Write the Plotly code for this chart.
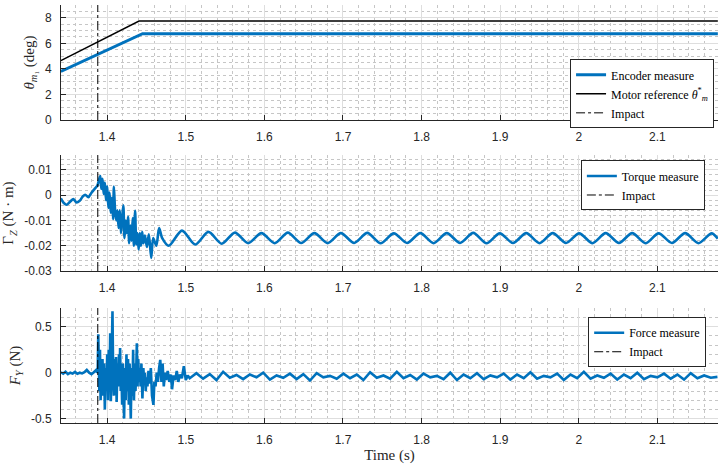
import plotly.graph_objects as go

# ---------------- data ----------------
impact_t = 1.388

t_ref = [1.341, 1.4405, 2.177]
ref_deg = [4.65, 7.75, 7.75]
t_enc = [1.341, 1.4450, 2.177]
enc_deg = [3.80, 6.75, 6.75]

t_torque = [
    1.3410, 1.3445, 1.3485, 1.3530, 1.3570, 1.3610, 1.3650, 1.3690, 1.3720, 1.3760,
    1.3800, 1.3840, 1.3875, 1.3895, 1.3912, 1.3925, 1.3940, 1.3955, 1.3970, 1.3985,
    1.4000, 1.4015, 1.4030, 1.4045, 1.4060, 1.4075, 1.4085, 1.4100, 1.4115, 1.4130,
    1.4145, 1.4160, 1.4175, 1.4190, 1.4205, 1.4220, 1.4235, 1.4250, 1.4265, 1.4280,
    1.4295, 1.4310, 1.4325, 1.4340, 1.4355, 1.4370, 1.4385, 1.4400, 1.4415, 1.4430,
    1.4445, 1.4460, 1.4480, 1.4505, 1.4530, 1.4560, 1.4585, 1.4625, 1.4660, 1.4700,
    1.4783, 1.4951, 1.5120, 1.5288, 1.5457, 1.5625, 1.5794, 1.5962, 1.6131, 1.6299,
    1.6468, 1.6636, 1.6805, 1.6973, 1.7142, 1.7310, 1.7479, 1.7647, 1.7816, 1.7984,
    1.8153, 1.8321, 1.8490, 1.8658, 1.8827, 1.8995, 1.9164, 1.9332, 1.9501, 1.9669,
    1.9838, 2.0006, 2.0175, 2.0343, 2.0512, 2.0680, 2.0849, 2.1017, 2.1186, 2.1354,
    2.1523, 2.1691, 2.1770,
]
torque_nm = [
    -0.0012, -0.0030, -0.0038, -0.0025, -0.0015, -0.0029, -0.0022, -0.0005, 0.0002, -0.0008,
    0.0010, 0.0025, 0.0038, 0.0060, 0.0076, 0.0025, 0.0065, 0.0005, 0.0050, -0.0020,
    0.0035, -0.0050, 0.0010, -0.0070, -0.0010, -0.0095, 0.0034, -0.0060, -0.0100, -0.0060,
    -0.0130, -0.0060, -0.0150, -0.0090, -0.0040, -0.0170, -0.0100, -0.0150, -0.0085, -0.0190,
    -0.0120, -0.0180, -0.0090, -0.0200, -0.0062, -0.0195, -0.0150, -0.0215, -0.0150, -0.0200,
    -0.0145, -0.0190, -0.0160, -0.0205, -0.0155, -0.0248, -0.0170, -0.0200, -0.0130, -0.0170,
    -0.0200, -0.0140, -0.0195, -0.0145, -0.0192, -0.0148, -0.0190, -0.0150, -0.0190, -0.0148,
    -0.0189, -0.0150, -0.0190, -0.0150, -0.0189, -0.0149, -0.0190, -0.0151, -0.0189, -0.0150,
    -0.0190, -0.0150, -0.0189, -0.0149, -0.0190, -0.0151, -0.0189, -0.0150, -0.0190, -0.0150,
    -0.0189, -0.0151, -0.0190, -0.0150, -0.0189, -0.0150, -0.0190, -0.0151, -0.0189, -0.0150,
    -0.0190, -0.0151, -0.0172,
]

t_force = [
    1.3410, 1.3440, 1.3470, 1.3500, 1.3530, 1.3560, 1.3590, 1.3620, 1.3650, 1.3680,
    1.3710, 1.3740, 1.3770, 1.3800, 1.3830, 1.3860, 1.3875,
    1.3880, 1.3886, 1.3893, 1.3900, 1.3908, 1.3916, 1.3924, 1.3932, 1.3940, 1.3950,
    1.3960, 1.3970, 1.3980, 1.3990, 1.4000, 1.4010, 1.4020, 1.4030, 1.4038, 1.4046,
    1.4056, 1.4067, 1.4076, 1.4085, 1.4094, 1.4103, 1.4112, 1.4120, 1.4130, 1.4140,
    1.4150, 1.4158, 1.4164, 1.4172, 1.4180, 1.4190, 1.4200, 1.4208, 1.4215, 1.4225,
    1.4235, 1.4245, 1.4255, 1.4265, 1.4275, 1.4285, 1.4292, 1.4300, 1.4310, 1.4320,
    1.4330, 1.4340, 1.4350, 1.4360, 1.4370, 1.4377, 1.4386, 1.4395, 1.4405, 1.4415,
    1.4425, 1.4435, 1.4448, 1.4460, 1.4470, 1.4480, 1.4490, 1.4500, 1.4512, 1.4525,
    1.4540, 1.4555, 1.4570, 1.4588, 1.4600, 1.4615, 1.4630, 1.4645, 1.4660, 1.4675,
    1.4690, 1.4705, 1.4720, 1.4735, 1.4750, 1.4770, 1.4790, 1.4810, 1.4825, 1.4845,
    1.4865, 1.4885, 1.4905, 1.4925, 1.4950, 1.4975, 1.5000, 1.5025, 1.5050,
    1.5135, 1.5220, 1.5305, 1.5390, 1.5475, 1.5560, 1.5645, 1.5730, 1.5815, 1.5900,
    1.5985, 1.6070, 1.6155, 1.6240, 1.6325, 1.6410, 1.6495, 1.6580, 1.6665, 1.6750,
    1.6835, 1.6920, 1.7005, 1.7090, 1.7175, 1.7260, 1.7345, 1.7430, 1.7515, 1.7600,
    1.7685, 1.7770, 1.7855, 1.7940, 1.8025, 1.8110, 1.8195, 1.8280, 1.8365, 1.8450,
    1.8535, 1.8620, 1.8705, 1.8790, 1.8875, 1.8960, 1.9045, 1.9130, 1.9215, 1.9300,
    1.9385, 1.9470, 1.9555, 1.9640, 1.9725, 1.9810, 1.9895, 1.9980, 2.0065, 2.0150,
    2.0235, 2.0320, 2.0405, 2.0490, 2.0575, 2.0660, 2.0745, 2.0830, 2.0915, 2.1000,
    2.1085, 2.1170, 2.1255, 2.1340, 2.1425, 2.1510, 2.1595, 2.1680, 2.1765,
]
force_n = [
    0.005, -0.010, 0.010, -0.015, 0.000, -0.010, 0.008, -0.012, 0.000, -0.008,
    0.005, 0.030, 0.000, -0.015, 0.005, 0.030, 0.000,
    0.05, 0.42, 0.10, -0.20, 0.25, -0.30, 0.05, -0.15, 0.15, -0.25,
    0.10, -0.40, 0.05, -0.20, 0.20, -0.30, 0.25, -0.10, 0.43, -0.31,
    0.10, 0.67, -0.05, -0.25, 0.15, -0.10, 0.17, -0.32, 0.10, -0.15,
    0.20, -0.05, 0.27, -0.20, 0.05, -0.35, 0.10, -0.15, -0.50, 0.05,
    -0.30, 0.20, -0.20, 0.15, -0.35, 0.10, -0.10, -0.50, 0.05, -0.25,
    0.25, -0.30, 0.10, -0.20, 0.05, 0.32, -0.15, 0.15, -0.10, 0.05,
    -0.15, 0.10, -0.28, 0.05, -0.10, 0.00, -0.20, -0.05, -0.15, 0.02,
    -0.12, 0.05, -0.25, -0.35, -0.10, -0.15, 0.00, -0.10, 0.05, 0.14,
    -0.10, 0.10, -0.15, 0.00, -0.08, 0.02, -0.10, -0.02, -0.18, -0.03,
    -0.08, 0.02, -0.10, -0.02, -0.06, 0.07, -0.08, -0.03, -0.06,
    -0.005, -0.065, -0.015, -0.080, 0.010, -0.055, -0.025, -0.070, -0.020, -0.050,
    0.000, -0.075, -0.030, -0.055, -0.010, -0.070, -0.015, -0.085, -0.005, -0.050,
    -0.035, -0.065, -0.010, -0.060, -0.020, -0.080, 0.005, -0.055, -0.030, -0.065,
    0.010, -0.060, -0.025, -0.075, -0.010, -0.050, -0.035, -0.070, 0.000, -0.080,
    -0.020, -0.060, -0.005, -0.070, -0.030, -0.050, -0.010, -0.075, -0.020, -0.060,
    0.005, -0.065, -0.035, -0.050, -0.010, -0.080, -0.020, -0.060, 0.010, -0.065,
    -0.030, -0.055, -0.010, -0.075, -0.020, -0.060, 0.000, -0.070, -0.035, -0.050,
    -0.010, -0.065, -0.020, -0.075, -0.005, -0.060, -0.030, -0.055, -0.045,
]
assert len(t_torque) == len(torque_nm)
assert len(t_force) == len(force_n)

x_ticks = [1.4, 1.5, 1.6, 1.7, 1.8, 1.9, 2.0, 2.1]
x_ticklabels = ["1.4", "1.5", "1.6", "1.7", "1.8", "1.9", "2", "2.1"]
theta_ticks = [0, 2, 4, 6, 8]
theta_ticklabels = ["0", "2", "4", "6", "8"]
torque_ticks = [-0.03, -0.02, -0.01, 0, 0.01]
torque_ticklabels = ["-0.03", "-0.02", "-0.01", "0", "0.01"]
force_ticks = [-0.5, 0, 0.5]
force_ticklabels = ["-0.5", "0", "0.5"]

x_range = [1.3412, 2.1772]
theta_range = [0, 9]
torque_range = [-0.03, 0.0159]
force_range = [-0.548, 0.705]

# ---------------- styling ----------------
BLUE = "#0072BD"
AX = "#262626"
GRID = "#dedede"
MINOR = "#c6c6c6"
SERIF = "Liberation Serif, Times New Roman, serif"
SANS = "Liberation Sans, Arial, sans-serif"

fig = go.Figure()

# top panel
fig.add_trace(go.Scatter(x=t_enc, y=enc_deg, mode="lines", name="Encoder measure",
                         line=dict(color=BLUE, width=3), xaxis="x", yaxis="y", legend="legend"))
fig.add_trace(go.Scatter(x=t_ref, y=ref_deg, mode="lines",
                         name="Motor reference <i>θ</i><sup>*</sup><sub><i>m</i></sub>",
                         line=dict(color="black", width=1.5), xaxis="x", yaxis="y", legend="legend"))
fig.add_trace(go.Scatter(x=[impact_t, impact_t], y=theta_range, mode="lines", name="Impact",
                         line=dict(color="black", width=1, dash="dashdot"), xaxis="x", yaxis="y", legend="legend"))

# middle panel
fig.add_trace(go.Scatter(x=t_torque, y=torque_nm, mode="lines", name="Torque measure",
                         line=dict(color=BLUE, width=2.6, shape="spline", smoothing=0.8),
                         xaxis="x2", yaxis="y2", legend="legend2"))
fig.add_trace(go.Scatter(x=[impact_t, impact_t], y=torque_range, mode="lines", name="Impact",
                         line=dict(color="black", width=1, dash="dashdot"), xaxis="x2", yaxis="y2", legend="legend2"))

# bottom panel
fig.add_trace(go.Scatter(x=t_force, y=force_n, mode="lines", name="Force measure",
                         line=dict(color=BLUE, width=2.6),
                         xaxis="x3", yaxis="y3", legend="legend3"))
fig.add_trace(go.Scatter(x=[impact_t, impact_t], y=force_range, mode="lines", name="Impact",
                         line=dict(color="black", width=1, dash="dashdot"), xaxis="x3", yaxis="y3", legend="legend3"))


def xaxis(anchor, title=None):
    d = dict(range=x_range, tickmode="array", tickvals=x_ticks, ticktext=x_ticklabels,
             showline=True, linecolor=AX, linewidth=1, ticks="inside", ticklen=5, tickcolor=AX,
             showgrid=True, gridcolor=GRID, gridwidth=1, zeroline=False,
             tickfont=dict(family=SANS, size=12, color=AX), ticklabelstandoff=6,
             minor=dict(tickmode="linear", tick0=1.4, dtick=0.02, showgrid=True,
                        gridcolor=MINOR, griddash="dot", gridwidth=1),
             anchor=anchor, domain=[0, 1])
    if title:
        d["title"] = dict(text=title, font=dict(family=SERIF, size=15, color=AX), standoff=2)
    return d


def yaxis(rng, tv, tt, dom, title, minor_dtick, tick0):
    return dict(range=rng, tickmode="array", tickvals=tv, ticktext=tt, domain=dom,
                showline=True, linecolor=AX, linewidth=1, ticks="inside", ticklen=5, tickcolor=AX,
                showgrid=True, gridcolor=GRID, gridwidth=1, zeroline=False,
                tickfont=dict(family=SANS, size=12, color=AX), ticklabelstandoff=6,
                minor=dict(tickmode="linear", tick0=tick0, dtick=minor_dtick, showgrid=True,
                           gridcolor=MINOR, griddash="dot", gridwidth=1),
                title=dict(text=title, font=dict(family=SERIF, size=15, color=AX), standoff=6))


legend_common = dict(bgcolor="white", bordercolor=AX, borderwidth=1,
                     font=dict(family=SERIF, size=12, color="black"),
                     xanchor="right", yanchor="top", tracegroupgap=0)

fig.update_layout(
    width=722, height=468,
    margin=dict(l=61, r=4, t=5, b=45),
    paper_bgcolor="white", plot_bgcolor="white",
    showlegend=True,
    xaxis=xaxis("y"),
    xaxis2=xaxis("y2"),
    xaxis3=xaxis("y3", "Time (s)"),
    yaxis=yaxis(theta_range, theta_ticks, theta_ticklabels, [0.7249, 1.0],
                "<i>θ</i><sub><i>m</i>₁</sub> (deg)", 0.5, 0),
    yaxis2=yaxis(torque_range, torque_ticks, torque_ticklabels, [0.3636, 0.6411],
                 "Γ<sub><i>Z</i></sub> (N · m)", 0.002, 0),
    yaxis3=yaxis(force_range, force_ticks, force_ticklabels, [0.0, 0.2751],
                 "<i>F<sub>Y</sub></i> (N)", 0.1, 0),
    legend=dict(x=0.994, y=0.870, **legend_common),
    legend2=dict(x=0.980, y=0.628, **legend_common),
    legend3=dict(x=0.982, y=0.253, **legend_common),
)

fig.write_html("out.html")
